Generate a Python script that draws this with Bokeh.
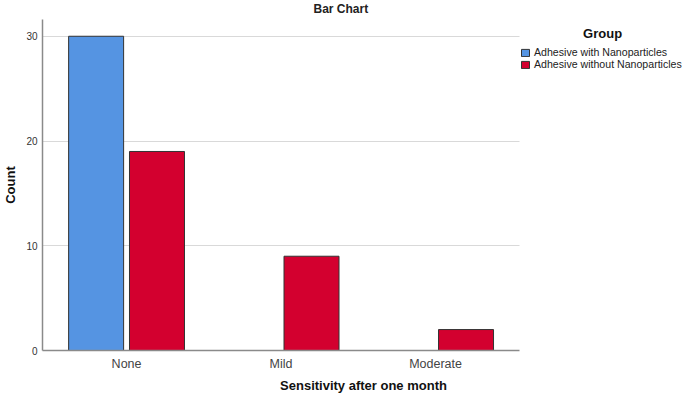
from bokeh.plotting import figure
from bokeh.models import (ColumnDataSource, Range1d, FixedTicker, Legend, LegendItem,
                          Label, CDSView, BooleanFilter)
from bokeh.transform import dodge
from bokeh.embed import file_html
from bokeh.resources import INLINE

categories = ["None", "Mild", "Moderate"]
with_np = [30, 0, 0]
without_np = [19, 9, 2]
groups = ["Adhesive with Nanoparticles", "Adhesive without Nanoparticles"]
y_ticks = [0, 10, 20, 30]
grid_ticks = [10, 20, 30]

FONT = "Liberation Sans"
idx = list(range(len(categories)))
src = ColumnDataSource(dict(idx=idx, cat=categories, w=with_np, wo=without_np))

X0, X1 = -0.544, 2.544          # category axis extent
p = figure(frame_width=642, frame_height=331, output_backend="svg", toolbar_location=None,
           x_range=Range1d(X0, 3.611), y_range=Range1d(0, 31.6),
           min_border_left=0, min_border_right=0, min_border_top=12, min_border_bottom=0)

p.title.text = "Bar Chart"
p.title.align = "left"
p.title.offset = 271
p.title.standoff = 3
p.title.vertical_align = "top"
p.title.text_font = FONT
p.title.text_font_size = "12px"
p.title.text_font_style = "bold"
p.title.text_color = "#222222"

p.outline_line_color = None
p.background_fill_color = "white"

for ax in (p.xaxis[0], p.yaxis[0]):
    ax.major_tick_line_color = None
    ax.major_tick_out = 0
    ax.major_tick_in = 0
    ax.minor_tick_line_color = None
    ax.minor_tick_out = 0
    ax.minor_tick_in = 0
    ax.axis_line_color = "#8a8a8a"
    ax.axis_line_width = 1.5
    ax.axis_label_text_font = FONT
    ax.axis_label_text_font_style = "bold"
    ax.axis_label_text_font_size = "13px"
    ax.axis_label_text_color = "#111111"
    ax.major_label_text_font = FONT

p.xaxis.bounds = (X0, X1)
p.xaxis.ticker = FixedTicker(ticks=idx)
p.xaxis.major_label_overrides = {i: c for i, c in enumerate(categories)}
p.xaxis.major_label_text_font_size = "12.5px"
p.xaxis.major_label_text_color = "#444444"
p.xaxis.major_label_standoff = 6
p.xaxis.axis_label = "Sensitivity after one month"
p.xaxis.axis_label_standoff = 4

p.yaxis.ticker = FixedTicker(ticks=y_ticks)
p.yaxis.major_label_text_font_size = "10px"
p.yaxis.major_label_text_color = "#333333"
p.yaxis.major_label_standoff = 5
p.yaxis.axis_label = "Count"
p.yaxis.axis_label_standoff = 5

p.xgrid.visible = False
p.ygrid.ticker = FixedTicker(ticks=grid_ticks)
p.ygrid.grid_line_color = "#d9d9d9"
p.ygrid.grid_line_width = 1
p.ygrid.cross_bounds = (X0, X1)

r1 = p.vbar(x=dodge("idx", -0.197, range=p.x_range), top="w", width=0.356, source=src,
            view=CDSView(filter=BooleanFilter([v > 0 for v in with_np])),
            fill_color="#5594E2", line_color="#333333", line_width=1)
r2 = p.vbar(x=dodge("idx", 0.197, range=p.x_range), top="wo", width=0.356, source=src,
            view=CDSView(filter=BooleanFilter([v > 0 for v in without_np])),
            fill_color="#D3002F", line_color="#333333", line_width=1)

legend = Legend(items=[LegendItem(label=groups[0], renderers=[r1]),
                       LegendItem(label=groups[1], renderers=[r2])],
                location=(478, 280), padding=0, margin=0, spacing=0,
                border_line_color=None, background_fill_alpha=0,
                glyph_width=10, glyph_height=9, label_standoff=4,
                label_text_font=FONT, label_text_font_size="10.6px",
                label_text_color="#222222", label_height=10)
p.add_layout(legend, "center")

p.add_layout(Label(x=3.081, y=30.26, text="Group", text_align="center",
                   text_baseline="middle", text_font=FONT, text_font_style="bold",
                   text_font_size="13px", text_color="#111111"))

open("out.html", "w").write(file_html(p, INLINE))
